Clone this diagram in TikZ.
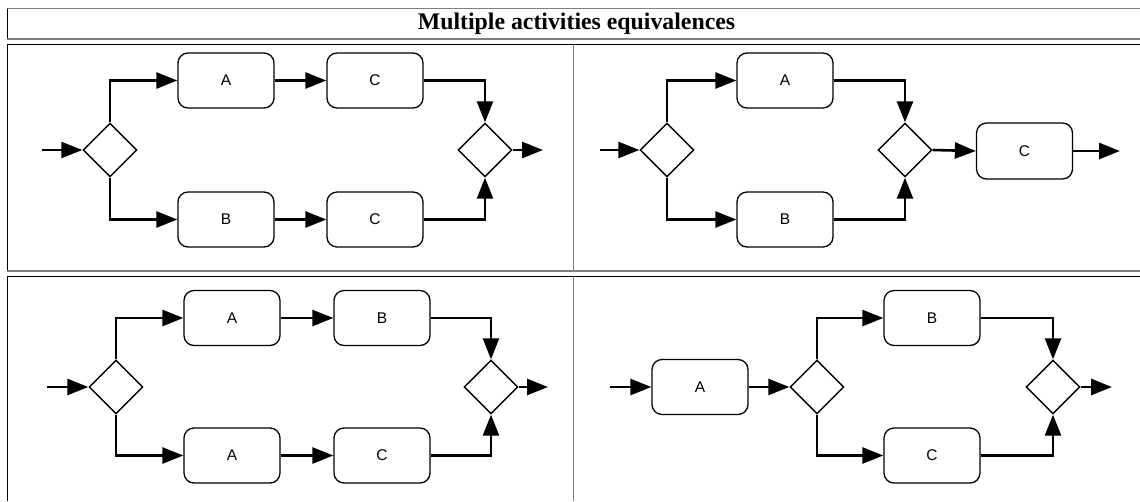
\documentclass[tikz,border=0pt]{standalone}
\usepackage{fontspec}
\setmainfont{Liberation Serif}
\newfontfamily\labelfont{Liberation Sans}
\usetikzlibrary{arrows.meta,shapes.geometric}

\tikzset{
  activity/.style={draw, line width=1.3pt, rounded corners=10pt,
    minimum width=96pt, minimum height=55pt, inner sep=0pt,
    font=\labelfont\fontsize{15.5}{18}\selectfont},
  gateway/.style={draw, diamond, line width=1.4pt, minimum size=54pt,
    inner sep=0pt},
  flow/.style={line width=2.6pt, -{Triangle[length=21pt,width=16pt]}},
  rulegray/.style={draw=black!50, line width=1.3pt},
  ruleblack/.style={draw=black, line width=1pt},
}

\begin{document}
\begin{tikzpicture}[x=1pt, y=-1pt]
  \useasboundingbox (0,0) rectangle (1140,501);

  % table frame
  \draw[rulegray] (7,8.5) -- (1140,8.5);
  \draw[ruleblack] (7.3,8.5) -- (7.3,39);
  \draw[rulegray] (7,39) -- (1140,39);
  \draw[ruleblack] (7,44.3) -- (1140,44.3);
  \draw[ruleblack] (7.3,44.3) -- (7.3,271);
  \draw[rulegray] (7,271) -- (1140,271);
  \draw[rulegray] (573.3,44.3) -- (573.3,271);
  \draw[ruleblack] (7,276.3) -- (1140,276.3);
  \draw[ruleblack] (7.3,276.3) -- (7.3,501);
  \draw[rulegray] (573.3,276.3) -- (573.3,501);

  \node[anchor=base, inner sep=0pt, font=\bfseries\fontsize{23.8}{28}\selectfont]
    (title) at (576.5,29.5) {Multiple activities equivalences};

  % split, A then C / B then C, merge
  \coordinate (in1) at (42,150);
  \node[gateway] (s1) at (110,150) {};
  \node[activity] (a1) at (226,80.5) {A};
  \node[activity] (c1a) at (375,80.5) {C};
  \node[activity] (b1) at (226,219.5) {B};
  \node[activity] (c1b) at (375,219.5) {C};
  \node[gateway] (m1) at (485,150) {};
  \coordinate (out1) at (543,150);
  \draw[flow] (in1) -- (s1.west);
  \draw[flow] (s1.north) |- (a1.west);
  \draw[flow] (s1.south) |- (b1.west);
  \draw[flow] (a1) -- (c1a);
  \draw[flow] (b1) -- (c1b);
  \draw[flow] (c1a.east) -| (m1.north);
  \draw[flow] (c1b.east) -| (m1.south);
  \draw[flow] (m1.east) -- (out1);

  % split, A / B, merge, then C
  \coordinate (in2) at (600,150);
  \node[gateway] (s2) at (667,150) {};
  \node[activity] (a2) at (785,80.5) {A};
  \node[activity] (b2) at (785,219.5) {B};
  \node[gateway] (m2) at (905,150) {};
  \node[activity, minimum height=56pt] (c2) at (1024.5,151) {C};
  \coordinate (out2) at (1120,151);
  \draw[flow] (in2) -- (s2.west);
  \draw[flow] (s2.north) |- (a2.west);
  \draw[flow] (s2.south) |- (b2.west);
  \draw[flow] (a2.east) -| (m2.north);
  \draw[flow] (b2.east) -| (m2.south);
  \draw[flow] (m2.east) -- (c2.west);
  \draw[flow] (c2.east) -- (out2);

  % split, A then B / A then C, merge
  \coordinate (in3) at (47,387);
  \node[gateway] (s3) at (116,387) {};
  \node[activity] (a3a) at (232,318) {A};
  \node[activity] (b3) at (382,318) {B};
  \node[activity] (a3b) at (232,455.5) {A};
  \node[activity] (c3) at (382,455.5) {C};
  \node[gateway] (m3) at (491,387) {};
  \coordinate (out3) at (548,387);
  \draw[flow] (in3) -- (s3.west);
  \draw[flow] (s3.north) |- (a3a.west);
  \draw[flow] (s3.south) |- (a3b.west);
  \draw[flow] (a3a) -- (b3);
  \draw[flow] (a3b) -- (c3);
  \draw[flow] (b3.east) -| (m3.north);
  \draw[flow] (c3.east) -| (m3.south);
  \draw[flow] (m3.east) -- (out3);

  % A, then split, B / C, merge
  \coordinate (in4) at (610,387);
  \node[activity] (a4) at (700,387) {A};
  \node[gateway] (s4) at (817,387) {};
  \node[activity] (b4) at (932,318) {B};
  \node[activity] (c4) at (932,455.5) {C};
  \node[gateway] (m4) at (1053,387) {};
  \coordinate (out4) at (1112,387);
  \draw[flow] (in4) -- (a4.west);
  \draw[flow] (a4.east) -- (s4.west);
  \draw[flow] (s4.north) |- (b4.west);
  \draw[flow] (s4.south) |- (c4.west);
  \draw[flow] (b4.east) -| (m4.north);
  \draw[flow] (c4.east) -| (m4.south);
  \draw[flow] (m4.east) -- (out4);
\end{tikzpicture}
\end{document}
